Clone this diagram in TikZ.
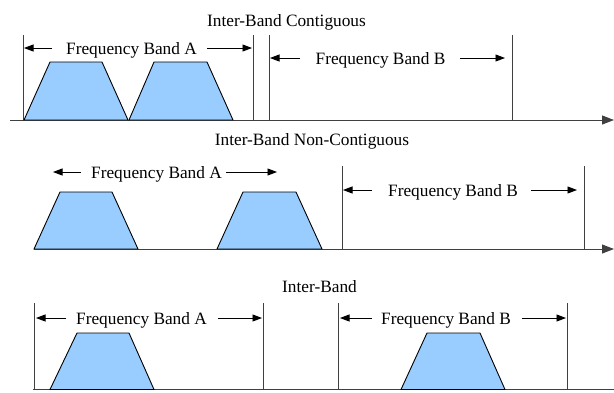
\documentclass[tikz,border=0pt]{standalone}
\usepackage{fontspec}
\setmainfont{Liberation Serif}
\usetikzlibrary{arrows.meta}
\definecolor{bandfill}{HTML}{99CCFF}
\definecolor{linegray}{HTML}{404040}
\tikzset{
  axisline/.style={draw=linegray, line width=1pt, -{Triangle[length=12pt,width=9pt]}},
  plainaxis/.style={draw=linegray, line width=1pt},
  edgeline/.style={draw=linegray, line width=0.8pt},
  trap/.style={draw=black, fill=bandfill, line width=0.9pt, line join=miter},
  dimarrow/.style={draw=black, line width=0.9pt, -{Triangle[length=9.5pt,width=7pt]}},
  lbl/.style={inner sep=0pt, anchor=base, font=\fontsize{17.3}{20}\selectfont},
}
\begin{document}
\begin{tikzpicture}[x=1pt,y=-1pt]
\useasboundingbox (0,0) rectangle (614,392);

% ---------- Top panel: Inter-Band Contiguous ----------
\node[lbl] (t1) at (286.5,26) {Inter-Band Contiguous};
\coordinate (a1s) at (10,120);
\coordinate (a1e) at (614,120);
\draw[axisline] (a1s) -- (a1e);
\foreach \xx/\nm in {23/v1a,253/v1b,269/v1c,512/v1d}{
  \coordinate (\nm t) at (\xx,35);
  \coordinate (\nm b) at (\xx,120);
  \draw[edgeline] (\nm t) -- (\nm b);
}
\draw[trap] (24,120) -- (50,62) -- (102,62) -- (128,120) -- cycle;
\draw[trap] (129,120) -- (154,62) -- (207,62) -- (233,120) -- cycle;
\node[lbl] (fa1) at (131.5,54) {Frequency Band A};
\coordinate (fa1l) at (52,48); \coordinate (fa1lt) at (24,48);
\coordinate (fa1r) at (207,48); \coordinate (fa1rt) at (252,48);
\draw[dimarrow] (fa1l) -- (fa1lt);
\draw[dimarrow] (fa1r) -- (fa1rt);
\node[lbl] (fb1) at (380.5,64) {Frequency Band B};
\coordinate (fb1l) at (300,58); \coordinate (fb1lt) at (270,58);
\coordinate (fb1r) at (460,58); \coordinate (fb1rt) at (505,58);
\draw[dimarrow] (fb1l) -- (fb1lt);
\draw[dimarrow] (fb1r) -- (fb1rt);

% ---------- Middle panel: Inter-Band Non-Contiguous ----------
\node[lbl] (t2) at (312,145.5) {Inter-Band Non-Contiguous};
\coordinate (a2s) at (34,249);
\coordinate (a2e) at (614,249);
\draw[axisline] (a2s) -- (a2e);
\foreach \xx/\nm in {342/v2a,584/v2b}{
  \coordinate (\nm t) at (\xx,166);
  \coordinate (\nm b) at (\xx,249);
  \draw[edgeline] (\nm t) -- (\nm b);
}
\draw[trap] (34,249) -- (60,192) -- (112,192) -- (138,249) -- cycle;
\draw[trap] (217,249) -- (243,192) -- (296,192) -- (322,249) -- cycle;
\node[lbl] (fa2) at (156.5,178) {Frequency Band A};
\coordinate (fa2l) at (81,172); \coordinate (fa2lt) at (53,172);
\coordinate (fa2r) at (226,172); \coordinate (fa2rt) at (277,172);
\draw[dimarrow] (fa2l) -- (fa2lt);
\draw[dimarrow] (fa2r) -- (fa2rt);
\node[lbl] (fb2) at (453,196) {Frequency Band B};
\coordinate (fb2l) at (372,190); \coordinate (fb2lt) at (343,190);
\coordinate (fb2r) at (531,190); \coordinate (fb2rt) at (577,190);
\draw[dimarrow] (fb2l) -- (fb2lt);
\draw[dimarrow] (fb2r) -- (fb2rt);

% ---------- Bottom panel: Inter-Band ----------
\node[lbl] (t3) at (319.5,292) {Inter-Band};
\coordinate (a3s) at (33,389.5);
\coordinate (a3e) at (614,389.5);
\draw[plainaxis] (a3s) -- (a3e);
\foreach \xx/\nm in {34/v3a,263/v3b,338/v3c,567/v3d}{
  \coordinate (\nm t) at (\xx,303);
  \coordinate (\nm b) at (\xx,389.5);
  \draw[edgeline] (\nm t) -- (\nm b);
}
\draw[trap] (50,389.5) -- (77,333) -- (129,333) -- (154,389.5) -- cycle;
\draw[trap] (401,389.5) -- (427,333) -- (480,333) -- (505,389.5) -- cycle;
\node[lbl] (fa3) at (141.5,324) {Frequency Band A};
\coordinate (fa3l) at (66,318); \coordinate (fa3lt) at (36,318);
\coordinate (fa3r) at (218,318); \coordinate (fa3rt) at (262,318);
\draw[dimarrow] (fa3l) -- (fa3lt);
\draw[dimarrow] (fa3r) -- (fa3rt);
\node[lbl] (fb3) at (446,324) {Frequency Band B};
\coordinate (fb3l) at (372,318); \coordinate (fb3lt) at (340,318);
\coordinate (fb3r) at (522,318); \coordinate (fb3rt) at (566,318);
\draw[dimarrow] (fb3l) -- (fb3lt);
\draw[dimarrow] (fb3r) -- (fb3rt);
\end{tikzpicture}
\end{document}
